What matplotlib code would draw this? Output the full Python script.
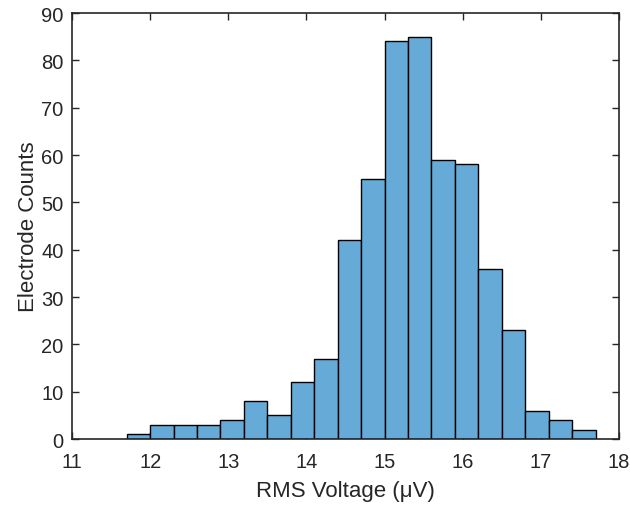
import matplotlib
matplotlib.use("Agg")
import matplotlib.pyplot as plt
import numpy as np

bin_edges = [11.7, 12.0, 12.3, 12.6, 12.9, 13.2, 13.5, 13.8, 14.1, 14.4, 14.7,
             15.0, 15.3, 15.6, 15.9, 16.2, 16.5, 16.8, 17.1, 17.4, 17.7]
counts = [1, 3, 3, 3, 4, 8, 5, 12, 17, 42, 55, 84, 85, 59, 58, 36, 23, 6, 4, 2]
xticks = [11, 12, 13, 14, 15, 16, 17, 18]
yticks = [0, 10, 20, 30, 40, 50, 60, 70, 80, 90]

plt.rcParams['font.family'] = ['Liberation Sans', 'DejaVu Sans']
axcol = '#262626'

fig = plt.figure(figsize=(6.3, 5.06), dpi=100)
ax = fig.add_axes([0.1143, 0.1304, 0.9825 - 0.1143, 0.9723 - 0.1304])

ax.hist(bin_edges[:-1], bins=bin_edges, weights=counts, color='#66AAD7',
        edgecolor='black', linewidth=1.0, zorder=2)

ax.set_xlim(11, 18)
ax.set_ylim(0, 90)
ax.set_xticks(xticks)
ax.set_yticks(yticks)
ax.tick_params(direction='in', top=True, right=True, length=5, width=1,
               labelsize=14.5, colors=axcol)
ax.tick_params(axis='x', pad=9)
ax.tick_params(axis='y', pad=6)
for s in ax.spines.values():
    s.set_color(axcol)
    s.set_linewidth(1.2)
    s.set_zorder(3)

ax.set_xlabel('RMS Voltage (μV)', fontsize=16, color=axcol, labelpad=7)
ax.set_ylabel('Electrode Counts', fontsize=16, color=axcol, labelpad=2)

fig.savefig('out.png', dpi=100)
